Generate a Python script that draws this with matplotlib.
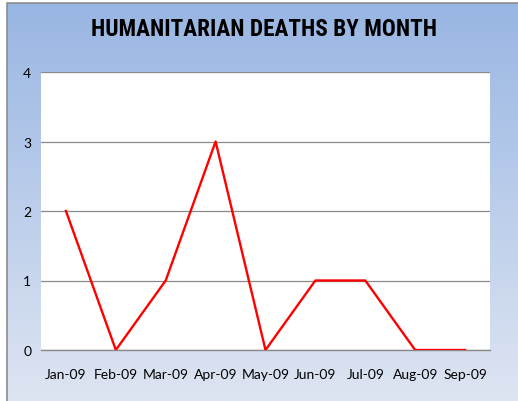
import matplotlib.pyplot as plt
import numpy as np
from matplotlib import font_manager
from matplotlib.patches import Rectangle

# Monthly values
months = ['Jan-09', 'Feb-09', 'Mar-09', 'Apr-09', 'May-09',
          'Jun-09', 'Jul-09', 'Aug-09', 'Sep-09']
deaths = [2, 0, 1, 3, 0, 1, 1, 0, 0]
y_ticks = [0, 1, 2, 3, 4]

names = sorted({f.name for f in font_manager.fontManager.ttflist})
title_fams = [n for n in ['Liberation Sans Narrow', 'Roboto Condensed',
                          'DejaVu Sans'] if n in names]
tick_fam = 'Lato' if 'Lato' in names else 'DejaVu Sans'

fig = plt.figure(figsize=(5.18, 4.02), dpi=100)
fig.patch.set_facecolor('white')

# gradient background for the chart frame
W, H = 518, 402
bg = fig.add_axes([7 / W, 0, 1 - 7 / W, 1 - 4 / H])
top = np.array([152, 182, 227]) / 255
bottom = np.array([222, 229, 242]) / 255
t = np.linspace(0, 1, 256)[:, None]
grad = top * (1 - t) + bottom * t
bg.imshow(grad[:, None, :], aspect='auto', extent=[0, 1, 0, 1])
bg.set_axis_off()
fig.add_artist(Rectangle((7 / W, -0.01), 1.0, 1 - 4 / H + 0.01,
                         transform=fig.transFigure, fill=False,
                         edgecolor='#8c8c8c', linewidth=1.2))

ax = fig.add_axes([41 / W, 51 / H, 449 / W, 278 / H])
ax.set_facecolor('white')
x = np.arange(len(months))
ax.plot(x, deaths, color='#ff0000', linewidth=1.7, zorder=3)

ax.set_xlim(-0.5, len(months) - 0.5)
ax.set_ylim(0, 4)
ax.set_yticks(y_ticks)
ax.set_xticks(x)
ax.set_xticklabels(months)
ax.grid(axis='y', color='#8a8a8a', linewidth=0.9)
ax.set_axisbelow(True)
for s in ['left', 'right', 'top']:
    ax.spines[s].set_visible(False)
ax.spines['bottom'].set_color('#8a8a8a')
ax.spines['bottom'].set_linewidth(1.0)
ax.tick_params(axis='x', length=0, pad=13, labelsize=10)
ax.tick_params(axis='y', length=0, pad=7, labelsize=10)
for lab in ax.get_xticklabels() + ax.get_yticklabels():
    lab.set_family(tick_fam)

fig.text(264 / W, 1 - 29 / H, 'HUMANITARIAN DEATHS BY MONTH', ha='center',
         va='center', fontsize=16.7, fontweight='bold', family=title_fams,
         fontstretch='condensed')

fig.savefig('out.png', dpi=100)
